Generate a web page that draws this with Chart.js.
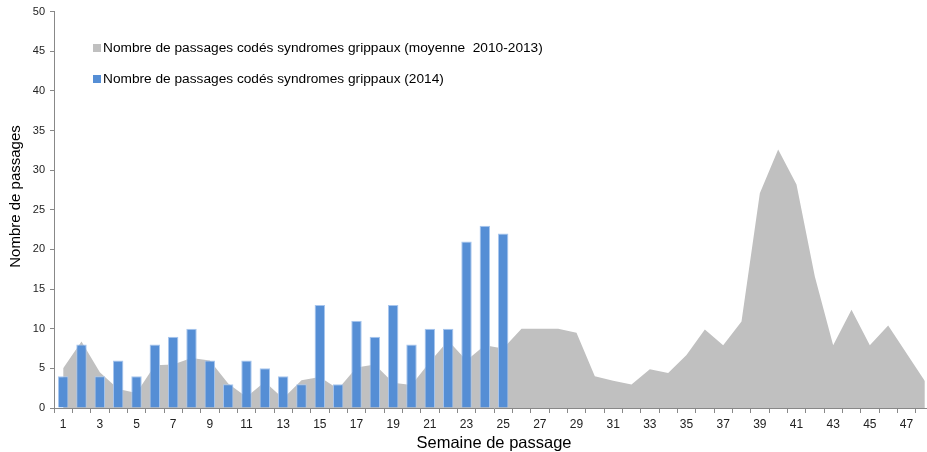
<!DOCTYPE html>
<html>
<head>
<meta charset="utf-8">
<script src="https://cdn.jsdelivr.net/npm/chart.js@4.4.1/dist/chart.umd.min.js"></script>
<style>
html,body{margin:0;padding:0;background:#fff;overflow:hidden;width:927px;height:452px;}
#wrap{position:absolute;left:0;top:0;width:940px;height:452px;}
</style>
</head>
<body>
<div id="wrap"><canvas id="c" width="940" height="452"></canvas></div>
<script>
const weeks = [];
for (let i = 1; i <= 48; i++) weeks.push(String(i));

const labelAvg = "Nombre de passages codés syndromes grippaux (moyenne  2010-2013)";
const label2014 = "Nombre de passages codés syndromes grippaux (2014)";
const yTitle = "Nombre de passages";
const xTitle = "Semaine de passage";

const avg2010_2013 = [5, 8.4, 4.5, 2.4, 1.9, 5.4, 5.5, 6.3, 6.0, 3.1,
  1.4, 3.3, 1.2, 3.5, 3.9, 2.4, 5.1, 5.5, 3.2, 2.9,
  5.8, 8.5, 6.0, 7.9, 7.5, 10, 10, 10, 9.5, 4.0,
  3.45, 2.95, 4.9, 4.4, 6.7, 9.9, 7.9, 10.9, 27.1, 32.6,
  28.2, 16.6, 7.9, 12.4, 7.9, 10.4, 6.9, 3.4];

const y2014 = [4, 8, 4, 6, 4, 8, 9, 10, 6, 3,
  6, 5, 4, 3, 13, 3, 11, 9, 13, 8,
  10, 10, 21, 23, 22];

const yTicks = { min: 0, max: 50, step: 5 };

const FONT = '"Liberation Sans", Arial, sans-serif';

const legendPlugin = {
  id: 'insideLegend',
  afterDraw(chart) {
    const ctx = chart.ctx;
    ctx.save();
    ctx.font = '13.7px ' + FONT;
    ctx.textBaseline = 'middle';
    const items = [
      { color: '#c0c0c0', text: labelAvg, y: 48 },
      { color: '#558ed5', text: label2014, y: 79 }
    ];
    for (const it of items) {
      ctx.fillStyle = it.color;
      ctx.fillRect(93, it.y - 4, 8, 8);
      ctx.fillStyle = '#000';
      ctx.fillText(it.text, 103, it.y);
    }
    // y axis title
    ctx.translate(16, 196.5);
    ctx.rotate(-Math.PI / 2);
    ctx.textAlign = 'center';
    ctx.font = '15px ' + FONT;
    ctx.fillText(yTitle, 0, 0);
    ctx.restore();
  }
};

new Chart(document.getElementById('c'), {
  type: 'bar',
  data: {
    labels: weeks,
    datasets: [
      {
        type: 'bar',
        label: label2014,
        data: y2014,
        backgroundColor: '#558ed5',
        borderColor: '#a8c6ee',
        borderWidth: 1,
        barPercentage: 0.57,
        categoryPercentage: 1,
        order: 0
      },
      {
        type: 'line',
        label: labelAvg,
        data: avg2010_2013,
        backgroundColor: '#c0c0c0',
        borderWidth: 0,
        borderColor: 'rgba(0,0,0,0)',
        pointRadius: 0,
        fill: 'origin',
        tension: 0,
        order: 1
      }
    ]
  },
  options: {
    responsive: false,
    animation: false,
    layout: { padding: { top: 6, right: 6, bottom: 0, left: 0 } },
    plugins: {
      legend: { display: false },
      tooltip: { enabled: false }
    },
    scales: {
      x: {
        offset: true,
        grid: { display: true, drawOnChartArea: false, drawTicks: true, tickLength: 5, offset: true, color: '#888' },
        border: { display: true, color: '#888', width: 1 },
        ticks: {
          autoSkip: false,
          maxRotation: 0,
          padding: 4,
          color: '#222',
          font: { family: FONT, size: 12 },
          callback: function(v, i) { const w = i + 1; return (w % 2 === 1) ? String(w) : ''; }
        },
        title: {
          display: true,
          text: xTitle,
          color: '#000',
          font: { family: FONT, size: 16.5, lineHeight: 1 },
          padding: { top: 0, bottom: 0 }
        },
        afterFit(s) { s.height = 44; }
      },
      y: {
        min: yTicks.min,
        max: yTicks.max,
        grid: { display: true, drawOnChartArea: false, drawTicks: true, tickLength: 4, color: '#888' },
        border: { display: true, color: '#888', width: 1 },
        ticks: {
          stepSize: yTicks.step,
          padding: 5,
          color: '#222',
          font: { family: FONT, size: 11 }
        },
        title: { display: false },
        afterFit(s) { s.width = 54; }
      }
    }
  },
  plugins: [legendPlugin]
});
</script>
</body>
</html>
